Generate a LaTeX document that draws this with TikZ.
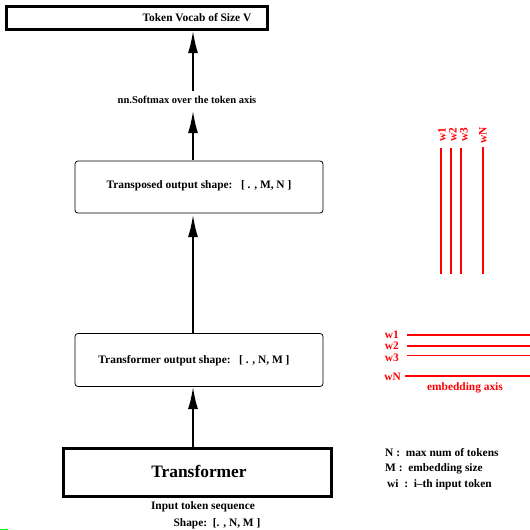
\documentclass[tikz,border=0pt]{standalone}
\usepackage{fontspec}
\setmainfont{Liberation Serif}
\usetikzlibrary{arrows.meta}
\begin{document}
\begin{tikzpicture}[x=1pt,y=-1pt,
  lbl/.style={font=\fontsize{11.4}{13}\selectfont\bfseries, inner sep=0pt},
  redlbl/.style={lbl, text=red},
  thickbox/.style={draw, line width=3pt, inner sep=0pt},
  roundbox/.style={draw, line width=0.8pt, rounded corners=3pt, inner sep=0pt},
  bigarrow/.style={line width=2.6pt, -{Latex[length=23pt,width=10pt]}},
  redline/.style={draw=red, line width=1.1pt}]
\useasboundingbox (0,0) rectangle (530,530);
% boxes
\node[thickbox, minimum width=261pt, minimum height=23pt] (vocab) at (136.5,17.5) {};
\node[lbl] (vocabt) at (197,18) {Token Vocab of Size V};
\node[lbl, font=\fontsize{10.5}{12}\selectfont\bfseries] (softmax) at (187,100) {nn.Softmax over the token axis};
\node[roundbox, minimum width=248pt, minimum height=52pt] (trans) at (199,187) {};
\node[lbl] (transt) at (199,186) {Transposed output shape:\ \ \ [ . , M, N ]};
\node[roundbox, minimum width=248pt, minimum height=53pt] (tout) at (199,360) {};
\node[lbl] (toutt) at (194,361) {Transformer output shape:\ \ \ [ . , N, M ]};
\node[thickbox, minimum width=268pt, minimum height=48pt] (tf) at (197.5,472.5) {};
\node[font=\fontsize{17.4}{20}\selectfont\bfseries, inner sep=0pt] (tft) at (199,471) {Transformer};
\node[lbl] (inp) at (203,507) {Input token sequence};
\node[lbl] (shape) at (217,524) {Shape:\ \ [. , N, M ]};
% arrows
\coordinate (a1s) at (193,447);
\coordinate (a1e) at (193,386);
\coordinate (a2s) at (193,333);
\coordinate (a2e) at (193,214);
\coordinate (a3s) at (193,160);
\coordinate (a3e) at (193,110);
\coordinate (a4s) at (193,91);
\coordinate (a4e) at (193,30);
\draw[bigarrow] (a1s) -- (a1e);
\draw[bigarrow] (a2s) -- (a2e);
\draw[bigarrow] (a3s) -- (a3e);
\draw[bigarrow] (a4s) -- (a4e);
% vertical red lines
\node[redlbl, rotate=90] (v1) at (442,135) {w1};
\node[redlbl, rotate=90] (v2) at (453,135) {w2};
\node[redlbl, rotate=90] (v3) at (464,135) {w3};
\node[redlbl, rotate=90] (vN) at (483,135) {wN};
\draw[redline] (441,148) -- (441,274);
\draw[redline] (451,148) -- (451,274);
\draw[redline] (461,148) -- (461,274);
\draw[redline] (483,147) -- (483,274);
% horizontal red lines
\node[redlbl, anchor=east] (h1) at (399,335) {w1};
\node[redlbl, anchor=east] (h2) at (399,346) {w2};
\node[redlbl, anchor=east] (h3) at (399,358) {w3};
\node[redlbl, anchor=east] (hN) at (401,377) {wN};
\draw[redline] (407,335) -- (530,335);
\draw[redline] (407,346) -- (530,346);
\draw[redline, line width=1pt] (407,355.5) -- (530,355.5);
\draw[redline] (405,376) -- (530,376);
\node[redlbl] (emb) at (465,388) {embedding axis};
% legend
\node[lbl, anchor=west] (legN) at (385,453) {N :\ \ max num of tokens};
\node[lbl, anchor=west] (legM) at (385,469) {M :\ \ embedding size};
\node[lbl, anchor=west] (legw) at (387,485) {wi\ \ :\ \ i–th input token};
% small green mark
\draw[draw=green, line width=1pt] (0,529) -- (8,529);
\end{tikzpicture}
\end{document}
